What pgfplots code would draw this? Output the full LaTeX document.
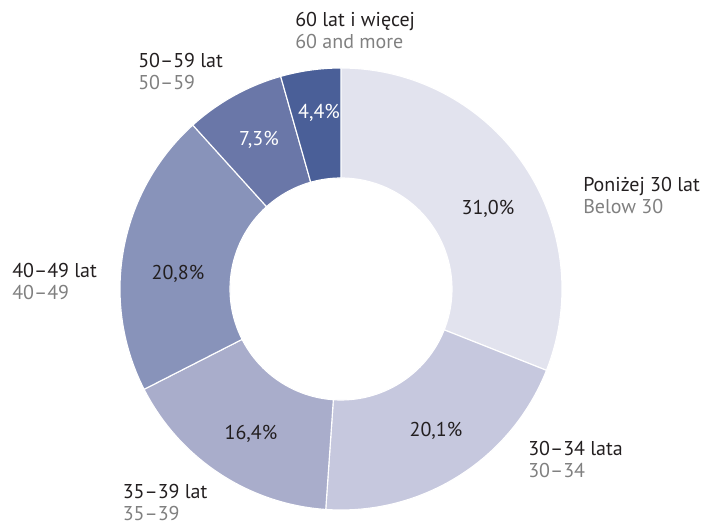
\documentclass[border=0pt]{standalone}
\usepackage{pgfplots}
\pgfplotsset{compat=1.18}
\usepackage{pgfplotstable}
\usepackage{fontspec}
\setmainfont{PT Sans}
\definecolor{cA}{HTML}{E2E3EE}
\definecolor{cB}{HTML}{C6C8DE}
\definecolor{cC}{HTML}{A9ADCB}
\definecolor{cD}{HTML}{8893BA}
\definecolor{cE}{HTML}{6A77A8}
\definecolor{cF}{HTML}{4A5F98}
\definecolor{txt}{HTML}{231F20}
\definecolor{sub}{HTML}{808080}

\pgfplotstableread{
value
31.0
20.1
16.4
20.8
7.3
4.4
}\agedata

\pgfplotstablegetelem{0}{value}\of\agedata \let\vA\pgfplotsretval
\pgfplotstablegetelem{1}{value}\of\agedata \let\vB\pgfplotsretval
\pgfplotstablegetelem{2}{value}\of\agedata \let\vC\pgfplotsretval
\pgfplotstablegetelem{3}{value}\of\agedata \let\vD\pgfplotsretval
\pgfplotstablegetelem{4}{value}\of\agedata \let\vE\pgfplotsretval
\pgfplotstablegetelem{5}{value}\of\agedata \let\vF\pgfplotsretval

\pgfmathsetmacro\aA{90}
\pgfmathsetmacro\aB{\aA-3.6*\vA}
\pgfmathsetmacro\aC{\aB-3.6*\vB}
\pgfmathsetmacro\aD{\aC-3.6*\vC}
\pgfmathsetmacro\aE{\aD-3.6*\vD}
\pgfmathsetmacro\aF{\aE-3.6*\vE}
\pgfmathsetmacro\aG{\aF-3.6*\vF}

\tikzset{lbl/.style={inner sep=0pt, font=\fontsize{15pt}{18pt}\selectfont}}

\newcommand\slice[3]{%
  \fill[#3, draw=white, line width=0.85pt]
    ([shift={(#1:165.75pt)}]axis cs:341,236) arc[start angle=#1, end angle=#2, radius=165.75pt]
    -- ([shift={(#2:83.25pt)}]axis cs:341,236) arc[start angle=#2, end angle=#1, radius=83.25pt]
    -- cycle;}

\newcommand\lab[4]{%
  \node[lbl, anchor=base west, text=txt] at (axis cs:#1,525-#2) {#3};
  \node[lbl, anchor=base west, text=sub, text depth=0pt] at (axis cs:#1,525-#2-22) {#4};}

\begin{document}
\begin{tikzpicture}
\begin{axis}[x=0.75pt, y=0.75pt, xmin=0, xmax=701, ymin=0, ymax=525,
  hide axis, clip=false, scale only axis]
\path (axis cs:0,0) rectangle (axis cs:701,525);
\slice{\aA}{\aB}{cA}
\slice{\aB}{\aC}{cB}
\slice{\aC}{\aD}{cC}
\slice{\aD}{\aE}{cD}
\slice{\aE}{\aF}{cE}
\slice{\aF}{\aG}{cF}
\node[lbl, anchor=base, text=txt] at (axis cs:488,525-215) {31,0\%};
\node[lbl, anchor=base, text=txt] at (axis cs:436,525-436.5) {20,1\%};
\node[lbl, anchor=base, text=txt] at (axis cs:251,525-439.3) {16,4\%};
\node[lbl, anchor=base, text=txt] at (axis cs:178,525-279.3) {20,8\%};
\node[lbl, anchor=base, text=white] at (axis cs:259,525-146) {7,3\%};
\node[lbl, anchor=base, text=white] at (axis cs:319,525-118.5) {4,4\%};
\lab{295}{27}{60 lat i więcej}{60 and more}
\lab{138}{67.5}{50–59 lat}{50–59}
\lab{583}{192}{Poniżej 30 lat}{Below 30}
\lab{12}{278}{40–49 lat}{40–49}
\lab{528}{456}{30–34 lata}{30–34}
\lab{122.5}{498.5}{35–39 lat}{35–39}
\end{axis}
\end{tikzpicture}
\end{document}
